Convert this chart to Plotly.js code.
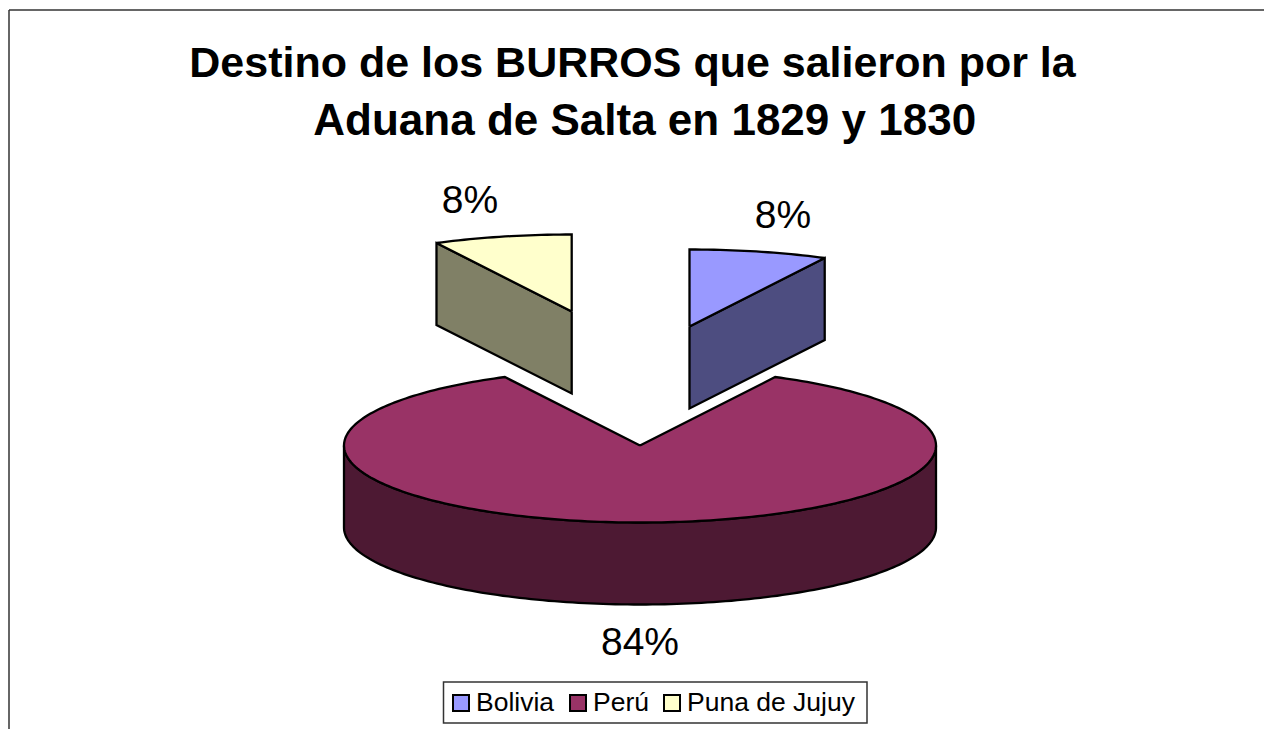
<!DOCTYPE html>
<html><head><meta charset="utf-8">
<script src="https://cdn.plot.ly/plotly-3.0.1.min.js"></script>
<style>html,body{margin:0;padding:0;background:#fff;overflow:hidden}#c{width:1273px;height:729px}</style>
</head><body><div id="c"></div>
<script>
var categories = ["Bolivia", "Perú", "Puna de Jujuy"];
var shares = [7.55, 84.9, 7.55];
var labels = ["8%", "84%", "8%"];
var topColors = ["#9999FF", "#993366", "#FFFFCC"];
var sideColors = ["#4D4D80", "#4D1933", "#808066"];

var W = 1273, H = 729;
var rx = 296, ry = 77, depth = 82;
var centers = [[689.5, 326.5], [640, 445.5], [571.7, 311.5]];
var starts = [0, shares[0], shares[0] + shares[1]];
var font = "Liberation Sans, Arial, sans-serif";

function pt(c, pct, dy) {
  var t = pct / 100 * 2 * Math.PI;
  return [c[0] + rx * Math.sin(t), c[1] - ry * Math.cos(t) + (dy || 0)];
}
function arc(c, a, b, dy) {
  var out = [], n = Math.max(2, Math.ceil(Math.abs(b - a) * 3));
  for (var i = 0; i <= n; i++) out.push(pt(c, a + (b - a) * i / n, dy));
  return out;
}
function poly(points, fill, name) {
  return {
    type: "scatter", mode: "lines", fill: "toself", fillcolor: fill,
    x: points.map(function (p) { return p[0]; }),
    y: points.map(function (p) { return p[1]; }),
    line: { color: "#000", width: 2.3, simplify: false },
    showlegend: false, hoverinfo: "skip", name: name
  };
}
var traces = [];
// Perú
var pc = centers[1], ps = starts[1], pe = starts[1] + shares[1];
traces.push(poly(arc(pc, 25, 75, 0).concat(arc(pc, 75, 25, depth)).concat([pt(pc, 25, 0)]), sideColors[1], categories[1]));
traces.push(poly([pc].concat(arc(pc, ps, pe, 0)).concat([pc]), topColors[1], categories[1]));
// Bolivia
var bc = centers[0], bEnd = starts[0] + shares[0];
traces.push(poly([bc, pt(bc, bEnd), pt(bc, bEnd, depth), [bc[0], bc[1] + depth], bc], sideColors[0], categories[0]));
traces.push(poly([bc].concat(arc(bc, starts[0], bEnd, 0)).concat([bc]), topColors[0], categories[0]));
// Puna
var uc = centers[2], uStart = starts[2];
traces.push(poly([uc, pt(uc, uStart), pt(uc, uStart, depth), [uc[0], uc[1] + depth], uc], sideColors[2], categories[2]));
traces.push(poly([uc].concat(arc(uc, uStart, 100, 0)).concat([uc]), topColors[2], categories[2]));
// Percent labels
traces.push({
  type: "scatter", mode: "text",
  x: [783, 640, 470], y: [218, 645, 203], text: labels,
  textposition: "middle center",
  textfont: { family: font, size: 39, color: "#000" },
  showlegend: false, hoverinfo: "skip"
});
// Legend key
var keyX = [461, 578, 672], keyTextX = [476, 593, 687], keyY = 703;
categories.forEach(function (name, i) {
  traces.push({
    type: "scatter", mode: "markers", x: [keyX[i]], y: [keyY], name: name,
    marker: { symbol: "square", size: 16, color: topColors[i], line: { color: "#000", width: 2 } },
    showlegend: false, hoverinfo: "skip"
  });
  traces.push({
    type: "scatter", mode: "text", x: [keyTextX[i]], y: [keyY + 1], text: [name], name: name,
    textposition: "middle right",
    textfont: { family: font, size: 26.5, color: "#000" },
    showlegend: false, hoverinfo: "skip"
  });
});

var layout = {
  width: W, height: H, autosize: false,
  margin: { l: 0, r: 0, t: 0, b: 0, pad: 0 },
  paper_bgcolor: "#fff", plot_bgcolor: "#fff",
  showlegend: false,
  title: {
    text: "<span style=\"font-size:43px\"><b>Destino de los BURROS que salieron por la</b></span><br><span style=\"font-size:44px\"><b>\u00A0\u00A0Aduana de Salta en 1829 y 1830</b></span>",
    font: { family: font, size: 44.6, color: "#000" },
    x: 632.5 / W, xanchor: "center", xref: "paper", y: 0.8945, yanchor: "middle", yref: "container"
  },
  xaxis: { range: [0, W], visible: false, fixedrange: true },
  yaxis: { range: [H, 0], visible: false, fixedrange: true },
  shapes: [
    { type: "line", xref: "x", yref: "y", x0: 9, x1: 9, y0: 10, y1: 729, line: { color: "#333", width: 1.5 } },
    { type: "line", xref: "x", yref: "y", x0: 9, x1: 1264, y0: 10, y1: 10, line: { color: "#333", width: 1.5 } },
    { type: "rect", xref: "x", yref: "y", x0: 443.5, x1: 867, y0: 682, y1: 723, layer: "below", fillcolor: "#fff", line: { color: "#333", width: 1.5 } }
  ]
};
Plotly.newPlot("c", traces, layout, { displayModeBar: false, responsive: false, staticPlot: true });
</script></body></html>
